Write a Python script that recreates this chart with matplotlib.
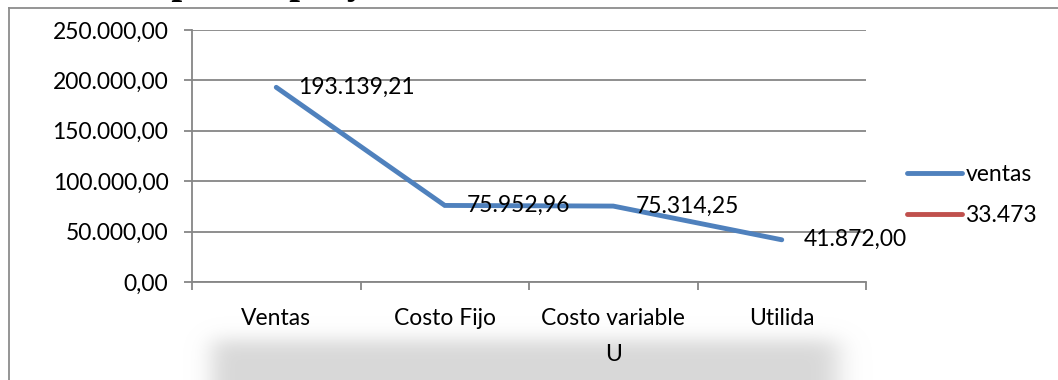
import math
import numpy as np
import matplotlib
matplotlib.use("Agg")
import matplotlib.pyplot as plt
from matplotlib.lines import Line2D
from matplotlib.ticker import FixedLocator, FuncFormatter

# --- data -------------------------------------------------------------
categorias = ["Ventas", "Costo Fijo", "Costo variable\nU", "Utilida"]
ventas = [193139.21, 75952.96, 75314.25, 41872.00]
serie_33473 = [None, None, None, None]          # series without values
nombres_series = ["ventas", "33.473"]
y_ticks = [0, 50000, 100000, 150000, 200000, 250000]
titulo = "Presupuesto proyectado"

AZUL = "#4F81BD"
ROJO = "#C0504D"
GRIS = "#868686"
FUENTE = "Lato"
TAM = 16.5

W, H, DPI = 1058, 380, 100
plt.rcParams["font.family"] = [FUENTE, "DejaVu Sans"]


def formato_es(v, dec=2):
    s = f"{v:,.{dec}f}"
    return s.replace(",", "X").replace(".", ",").replace("X", ".")


def fx(px):
    return px / W


def fy(py):
    return 1 - py / H


fig = plt.figure(figsize=(W / DPI, H / DPI), dpi=DPI)
fig.patch.set_facecolor("white")

# soft grey shadow below the category labels
sh_ax = fig.add_axes([0, 0, 1, 1], zorder=-5)
sh_ax.set_axis_off()
xs = np.arange(W) + 0.5
ys = np.arange(H) + 0.5
erf = np.vectorize(math.erf)


def paso(t, centro, sigma):
    return 0.5 * (1 + erf((t - centro) / (sigma * math.sqrt(2))))


ax_prof = paso(xs, 212, 11) * (1 - paso(xs, 838, 13))
ay_prof = paso(ys, 340, 9)
alpha = np.outer(ay_prof, ax_prof)
img = np.ones((H, W, 4))
img[..., :3] = 0.85
img[..., 3] = alpha
sh_ax.imshow(img, extent=[0, 1, 0, 1], aspect="auto", interpolation="bilinear")
sh_ax.set_xlim(0, 1)
sh_ax.set_ylim(0, 1)

# outer chart frame (left and top edges)
fig.add_artist(Line2D([fx(8.5), fx(8.5)], [fy(7.5), fy(H + 2)],
                      color="#8c8c8c", lw=1.3, transform=fig.transFigure))
fig.add_artist(Line2D([fx(8.5), fx(W + 2)], [fy(7.5), fy(7.5)],
                      color="#8c8c8c", lw=1.3, transform=fig.transFigure))

# heading (only its descenders reach into the visible area)
fig.text(fx(77), fy(-7), titulo, fontsize=28, fontweight="bold",
         family="Liberation Serif", ha="left", va="baseline")

# --- main plot --------------------------------------------------------
left, right, top, bottom = 192, 866, 30, 282
ax = fig.add_axes([fx(left), fy(bottom), fx(right - left), (bottom - top) / H])
ax.set_facecolor("white")

x = np.arange(len(categorias))
ax.plot(x, ventas, color=AZUL, lw=3.5, solid_capstyle="round",
        solid_joinstyle="miter", label=nombres_series[0], zorder=3)
ax.plot(x, np.array(serie_33473, dtype=float), color=ROJO, lw=3.5,
        solid_capstyle="round", label=nombres_series[1], zorder=3)

for xi, v in zip(x, ventas):
    ax.annotate(formato_es(v), (xi, v), xytext=(16, 0), textcoords="offset points",
                ha="left", va="center", fontsize=TAM, color="black", zorder=4,
                annotation_clip=False)

ax.set_xlim(-0.5, len(categorias) - 0.5)
ax.set_ylim(0, 250000)

ax.yaxis.set_major_locator(FixedLocator(y_ticks))
ax.yaxis.set_major_formatter(FuncFormatter(lambda v, p: formato_es(v)))
ax.grid(axis="y", color=GRIS, lw=1.3)
ax.set_axisbelow(True)

ax.xaxis.set_major_locator(FixedLocator(np.arange(-0.5, len(categorias), 1.0)))
ax.xaxis.set_major_formatter(FuncFormatter(lambda v, p: ""))
ax.xaxis.set_minor_locator(FixedLocator(x))
ax.set_xticklabels(categorias, minor=True)

ax.tick_params(axis="y", which="major", direction="out", length=6, width=1.3,
               color=GRIS, pad=11, labelsize=TAM)
ax.tick_params(axis="x", which="major", direction="out", length=6, width=1.3,
               color=GRIS)
ax.tick_params(axis="x", which="minor", length=0, pad=19, labelsize=TAM)
for lab in ax.get_xticklabels(minor=True):
    lab.set_linespacing(1.85)

for s in ["top", "right"]:
    ax.spines[s].set_visible(False)
for s in ["left", "bottom"]:
    ax.spines[s].set_color(GRIS)
    ax.spines[s].set_linewidth(1.3)

leg = fig.legend(loc="center left", bbox_to_anchor=(fx(907), fy(195)),
                 frameon=False, fontsize=TAM, handlelength=2.4,
                 handletextpad=0.15, labelspacing=0.85, borderpad=0,
                 borderaxespad=0)

fig.savefig("out.png", dpi=DPI)
